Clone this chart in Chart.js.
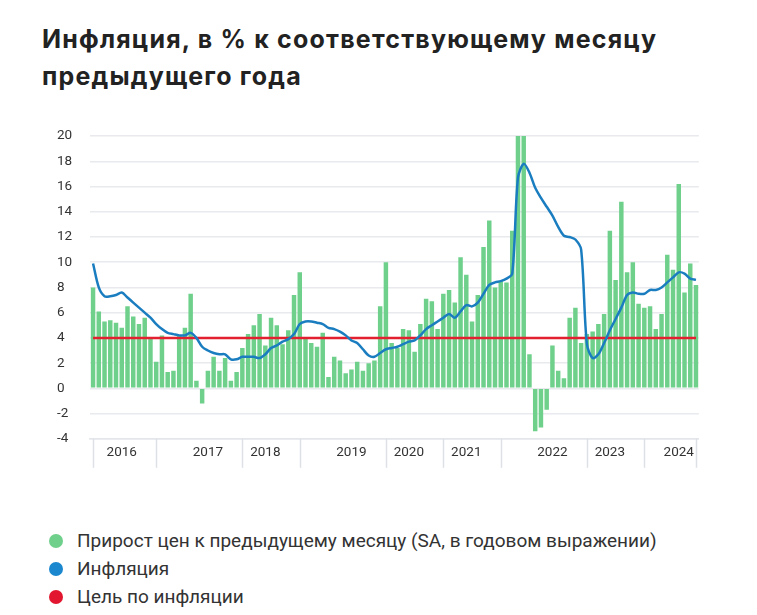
<!DOCTYPE html>
<html lang="ru">
<head>
<meta charset="utf-8">
<script src="https://cdn.jsdelivr.net/npm/chart.js@4/dist/chart.umd.min.js"></script>
<style>
    body { margin: 0; background: #fff; width: 757px; height: 615px; overflow: hidden; position: relative; }
    #title {
        position: absolute; left: 42px; top: 21px; margin: 0;
        font-family: "Inter", sans-serif; font-weight: 700; font-size: 25px;
        letter-spacing: 1.2px; line-height: 37px; color: #222;
    }
    #chartBox { position: absolute; left: 57px; top: 119px; width: 645px; height: 356px; }
    #legend { position: absolute; left: 49px; top: 527px; font-family: "Roboto", sans-serif; font-size: 19px; color: #333; }
    #legend div { height: 28px; line-height: 28px; display: flex; align-items: center; }
    #legend span.dot { display: inline-block; width: 14px; height: 14px; border-radius: 50%; margin-right: 14px; }
</style>
</head>
<body>
<h1 id="title">Инфляция, в % к соответствующему месяцу<br>предыдущего года</h1>
<div id="chartBox"><canvas id="inflChart"></canvas></div>
<div id="legend"></div>

<script>
// Data: monthly, Jan 2016 - Oct 2024
const years = ['2016', '2017', '2018', '2019', '2020', '2021', '2022', '2023', '2024'];
const months = [];
for (const y of years) {
    for (let m = 1; m <= 12; m++) {
        if (y === '2024' && m > 10) break;
        months.push(y + '-' + String(m).padStart(2, '0'));
    }
}

// Month-on-month price growth (SA, annualized)
const priceGrowth = [
    8.0, 6.1, 5.3, 5.4, 5.2, 4.8, 6.5, 5.7, 5.1, 5.6, 4.0, 2.1,
    4.2, 1.3, 1.4, 4.2, 4.8, 7.5, 0.6, -1.2, 1.4, 2.5, 1.4, 2.4,
    0.6, 1.3, 3.2, 4.3, 5.0, 5.9, 3.4, 5.6, 5.0, 3.5, 4.6, 7.4,
    9.2, 4.0, 3.6, 3.3, 4.4, 0.9, 2.5, 2.2, 1.2, 1.5, 2.1, 1.4,
    2.0, 2.2, 6.5, 10.0, 3.6, 3.2, 4.7, 4.6, 2.9, 5.1, 7.1, 6.9,
    4.7, 7.5, 7.8, 6.8, 10.4, 9.0, 5.3, 7.4, 11.2, 13.3, 8.0, 8.5,
    8.4, 12.5, 20, 20, 2.7, -3.4, -3.1, -1.7, 3.4, 1.4, 0.8, 5.6,
    6.4, 3.6, 4.3, 4.5, 5.1, 5.9, 12.5, 8.6, 14.8, 9.2, 10.0, 6.7,
    6.4, 6.5, 4.7, 5.9, 10.6, 9.4, 16.2, 7.6, 9.9, 8.2
];

// Year-on-year inflation
const inflation = [
    9.9, 8.0, 7.3, 7.3, 7.4, 7.6, 7.2, 6.8, 6.4, 6.0, 5.6, 5.1,
    4.7, 4.4, 4.3, 4.2, 4.2, 4.4, 4.0, 3.3, 3.0, 2.8, 2.7, 2.7,
    2.3, 2.3, 2.5, 2.5, 2.5, 2.4, 2.7, 3.2, 3.4, 3.7, 3.9, 4.3,
    5.1, 5.3, 5.3, 5.2, 5.1, 4.8, 4.7, 4.5, 4.2, 3.8, 3.6, 3.1,
    2.6, 2.5, 2.8, 3.1, 3.2, 3.3, 3.5, 3.7, 3.8, 4.2, 4.7, 5.0,
    5.3, 5.6, 5.9, 5.6, 6.1, 6.6, 6.5, 6.8, 7.5, 8.2, 8.4, 8.5,
    8.7, 9.1, 16.7, 17.8, 17.1, 15.9, 15.1, 14.4, 13.7, 12.8, 12.1, 12.0,
    11.8, 11.0, 3.5, 2.4, 2.7, 3.6, 4.6, 5.5, 6.4, 7.4, 7.6, 7.5,
    7.5, 7.8, 7.8, 8.0, 8.4, 8.8, 9.2, 9.1, 8.7, 8.6
];

// Inflation target
const targetValue = 4;

// Where the year labels and the separators sit on the month axis
const yearLabelIndex = [5, 20, 30, 45, 55, 65, 80, 90, 102];
const separatorIndex = [0, 11, 26, 36, 51, 61, 71, 86, 96, 105];

const seriesNames = ['Прирост цен к предыдущему месяцу (SA, в годовом выражении)', 'Инфляция', 'Цель по инфляции'];
const colors = ['#6fd08c', '#1a7dc0', '#e2202f'];
const legendColors = ['#6fd08c', '#1b87cf', '#e2172f'];

// Draws the year separators below the x axis
const separatorPlugin = {
    id: 'yearSeparators',
    afterDraw(chart) {
        const xs = chart.scales.x;
        const c = chart.ctx;
        c.save();
        c.strokeStyle = '#dde1e6';
        c.lineWidth = 1.5;
        separatorIndex.forEach(i => {
            const px = Math.round(xs.getPixelForValue(i)) + 0.5;
            c.beginPath();
            c.moveTo(px, xs.top);
            c.lineTo(px, xs.top + 29);
            c.stroke();
        });
        c.restore();
    }
};

const ctx = document.getElementById('inflChart').getContext('2d');

const inflChart = new Chart(ctx, {
    data: {
        labels: months,
        datasets: [
            {
                type: 'line',
                label: seriesNames[1],
                data: inflation,
                borderColor: colors[1],
                borderWidth: 2.5,
                pointRadius: 0,
                tension: 0.3,
                order: 1
            },
            {
                type: 'line',
                label: seriesNames[2],
                data: months.map(() => targetValue),
                borderColor: colors[2],
                borderWidth: 2.5,
                pointRadius: 0,
                order: 2
            },
            {
                type: 'bar',
                label: seriesNames[0],
                data: priceGrowth,
                backgroundColor: colors[0],
                barPercentage: 0.78,
                categoryPercentage: 1.0,
                order: 3
            }
        ]
    },
    options: {
        responsive: true,
        maintainAspectRatio: false,
        animation: false,
        layout: { padding: { bottom: 8, right: 2 } },
        plugins: {
            legend: { display: false },
            tooltip: { enabled: false }
        },
        scales: {
            x: {
                offset: true,
                grid: { display: false, drawTicks: false },
                border: { color: '#e3e6ea', width: 1.5 },
                ticks: {
                    autoSkip: false,
                    maxRotation: 0,
                    padding: 6,
                    color: '#333',
                    font: { family: 'Roboto', size: 13.5 },
                    callback: (val, i) => {
                        const k = yearLabelIndex.indexOf(i);
                        return k >= 0 ? years[k] : '';
                    }
                }
            },
            y: {
                min: -4,
                max: 20,
                ticks: {
                    stepSize: 2,
                    crossAlign: 'far',
                    padding: 9,
                    color: '#333',
                    font: { family: 'Roboto', size: 13.5 }
                },
                grid: {
                    color: '#e8eaed',
                    lineWidth: 1.5,
                    drawTicks: false
                },
                border: { display: false }
            }
        }
    },
    plugins: [separatorPlugin]
});

// HTML legend, one row per series
const legendBox = document.getElementById('legend');
[0, 1, 2].forEach(i => {
    const row = document.createElement('div');
    row.innerHTML = '<span class="dot" style="background:' + legendColors[i] + '"></span>' + seriesNames[i];
    legendBox.appendChild(row);
});
</script>
</body>
</html>
